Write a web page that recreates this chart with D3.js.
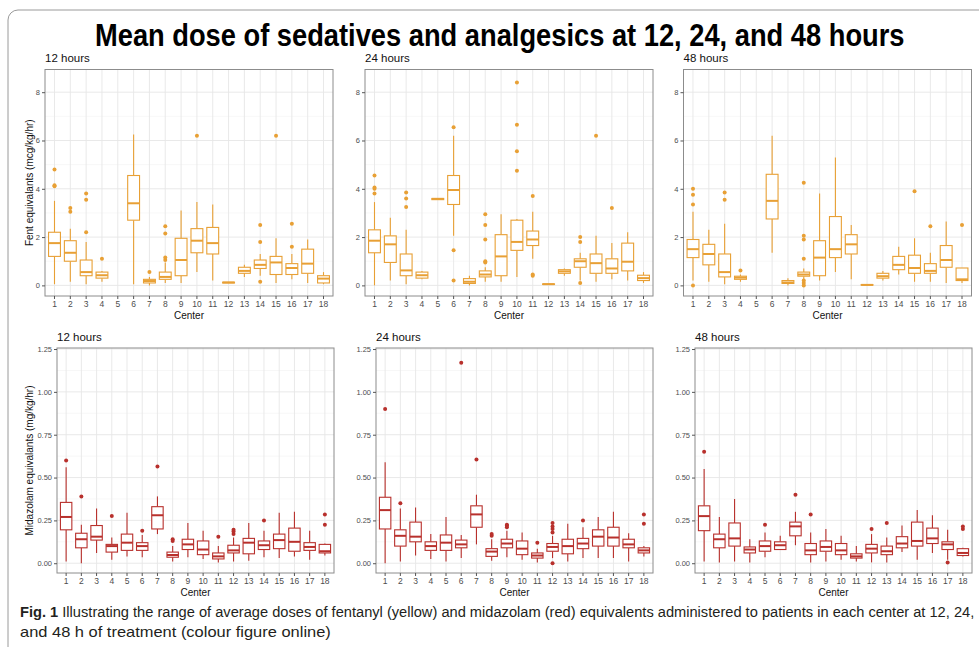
<!DOCTYPE html>
<html>
<head>
<meta charset="utf-8">
<script src="https://cdn.jsdelivr.net/npm/d3@7"></script>
<style>
  body { margin: 0; background: #fff; }
  svg { display: block; }
  .tick text { fill: #4d4d4d; font-family: "Liberation Sans", Arial, sans-serif; font-size: 7.5px; }
  .tick line { stroke: #555; }
  .domain { display: none; }
</style>
</head>
<body>
<svg id="chart" width="979" height="647"></svg>
<script>
// ---- data ----
var centers = [1,2,3,4,5,6,7,8,9,10,11,12,13,14,15,16,17,18];
var hourTitles = ["12 hours", "24 hours", "48 hours"];
var fentTicks = [0, 2, 4, 6, 8];
var fentMinor = [1, 3, 5, 7];
var midTicks = [0, 0.25, 0.5, 0.75, 1.0, 1.25];
var midMinor = [0.125, 0.375, 0.625, 0.875, 1.125];

// [lower whisker, q1, median, q3, upper whisker], null = no data
var fent12 = [[0.05,1.2,1.75,2.2,3.5],[0.15,1.0,1.35,1.85,2.35],[0.05,0.4,0.55,1.05,1.8],[0.15,0.3,0.42,0.55,0.6],null,
  [0.05,2.7,3.4,4.55,6.25],[0.0,0.1,0.18,0.25,0.35],[0.1,0.25,0.35,0.55,0.95],[0.1,0.4,1.05,1.95,3.1],[0.55,1.35,1.85,2.35,3.45],
  [0.2,1.3,1.75,2.4,3.35],[0.1,0.1,0.12,0.13,0.13],[0.35,0.5,0.6,0.75,0.85],[0.4,0.7,0.85,1.05,1.3],[0.1,0.45,0.95,1.2,1.95],
  [0.25,0.45,0.72,0.9,1.3],[0.1,0.5,0.9,1.5,1.9],[0.05,0.1,0.28,0.4,0.55]];
var fent12Out = [[4.1,4.15,4.8],[3.05,3.2],[2.2,3.55,3.8],[1.1],[],[],[0.55],[1.05,1.15,2.15,2.45],[],[6.2],
  [],[],[],[0.15,1.8,2.5],[6.2],[1.6,2.55],[],[]];

var fent24 = [[0.0,1.35,1.85,2.3,3.45],[0.2,0.95,1.7,2.05,2.8],[0.05,0.4,0.62,1.3,2.3],[0.25,0.3,0.42,0.55,0.6],[3.55,3.55,3.58,3.6,3.6],
  [2.05,3.35,3.95,4.55,6.2],[0.0,0.08,0.15,0.28,0.4],[0.15,0.35,0.45,0.6,0.75],[0.15,0.4,1.2,2.1,2.95],[0.35,1.45,1.8,2.7,2.75],
  [1.1,1.65,1.9,2.25,3.05],[0.04,0.04,0.05,0.06,0.06],[0.4,0.5,0.58,0.65,0.7],[0.2,0.75,1.0,1.1,1.35],[0.15,0.5,0.92,1.3,2.05],
  [0.25,0.5,0.7,1.1,1.75],[0.2,0.6,0.98,1.75,2.2],[0.1,0.2,0.3,0.42,0.55]];
var fent24Out = [[3.8,4.0,4.05,4.55],[],[3.25,3.6,3.85],[],[],[0.2,1.45,6.55],[],[0.95,1.0,1.9,2.5,2.95],[],[4.75,5.55,6.65,8.4],
  [0.4,0.45,3.7],[],[],[0.1,1.8,2.0],[6.2],[3.2],[],[]];

var fent48 = [[0.2,1.15,1.5,1.9,3.05],[0.15,0.85,1.3,1.7,2.3],[0.05,0.35,0.55,1.3,2.55],[0.15,0.25,0.32,0.38,0.45],null,
  [1.35,2.75,3.5,4.6,6.2],[0.0,0.08,0.12,0.2,0.3],[0.25,0.38,0.45,0.55,0.7],[0.2,0.4,1.15,1.85,3.8],[0.55,1.15,1.5,2.85,5.3],
  [0.25,1.3,1.7,2.1,2.5],[0.01,0.01,0.02,0.03,0.03],[0.2,0.3,0.38,0.5,0.6],[0.45,0.65,0.85,1.2,1.6],[0.15,0.5,0.72,1.25,1.95],
  [0.15,0.5,0.6,0.9,1.35],[0.1,0.75,1.05,1.65,2.65],[0.1,0.2,0.25,0.72,0.72]];
var fent48Out = [[0.0,3.35,3.75,4.0],[],[3.55,3.85],[0.62],[],[],[],[0.0,0.1,0.2,1.1,1.9,2.05,4.25],[],[],
  [],[],[],[],[3.9],[2.45],[],[2.5]];

var mid12 = [[0.01,0.195,0.27,0.355,0.56],[0.0,0.09,0.14,0.175,0.225],[0.06,0.135,0.155,0.22,0.32],[0.02,0.065,0.1,0.11,0.15],[0.04,0.075,0.12,0.17,0.295],
  [0.035,0.075,0.1,0.12,0.165],[0.17,0.2,0.28,0.33,0.39],[0.01,0.035,0.048,0.065,0.1],[0.035,0.08,0.11,0.14,0.235],[0.025,0.05,0.08,0.13,0.19],
  [0.005,0.025,0.04,0.06,0.1],[0.01,0.06,0.075,0.105,0.15],[0.015,0.055,0.12,0.145,0.235],[0.035,0.08,0.105,0.13,0.19],[0.03,0.085,0.135,0.17,0.295],
  [0.04,0.07,0.125,0.205,0.3],[0.02,0.075,0.095,0.12,0.19],[0.045,0.06,0.07,0.11,0.115]];
var mid12Out = [[0.6],[0.39],[],[0.275],[],[0.19],[0.565],[0.13,0.14],[],[],
  [0.155],[0.17,0.185,0.195],[],[0.25],[],[],[],[0.225,0.285]];

var mid24 = [[0.0,0.2,0.31,0.385,0.59],[0.01,0.1,0.16,0.195,0.32],[0.045,0.125,0.155,0.24,0.325],[0.025,0.075,0.1,0.125,0.17],[0.01,0.075,0.12,0.165,0.27],
  [0.03,0.09,0.11,0.135,0.165],[0.11,0.21,0.285,0.335,0.4],[0.015,0.04,0.068,0.085,0.14],[0.035,0.09,0.115,0.14,0.19],[0.02,0.05,0.085,0.13,0.18],
  [0.005,0.03,0.045,0.06,0.085],[0.03,0.07,0.095,0.115,0.16],[0.01,0.055,0.1,0.14,0.23],[0.03,0.085,0.115,0.145,0.21],[0.03,0.1,0.155,0.195,0.27],
  [0.03,0.1,0.15,0.21,0.3],[0.01,0.09,0.11,0.14,0.175],[0.04,0.06,0.075,0.09,0.1]];
var mid24Out = [[0.9],[0.35],[],[],[],[1.17],[0.605],[0.16,0.17],[0.21,0.22,0.225],[],
  [0.12],[0.0,0.18,0.2,0.215,0.235],[],[0.25],[],[],[],[0.23,0.285]];

var mid48 = [[0.01,0.19,0.275,0.335,0.55],[0.005,0.09,0.14,0.17,0.27],[0.01,0.1,0.145,0.235,0.375],[0.005,0.06,0.08,0.095,0.14],[0.035,0.07,0.1,0.13,0.18],
  [0.08,0.08,0.105,0.125,0.16],[0.105,0.16,0.215,0.24,0.3],[0.005,0.05,0.075,0.115,0.18],[0.01,0.07,0.095,0.13,0.2],[0.02,0.05,0.075,0.115,0.16],
  [0.01,0.03,0.04,0.055,0.1],[0.005,0.06,0.085,0.11,0.17],[0.005,0.05,0.07,0.1,0.15],[0.065,0.09,0.115,0.155,0.22],[0.02,0.1,0.13,0.24,0.31],
  [0.06,0.115,0.145,0.205,0.28],[0.02,0.08,0.11,0.125,0.195],[0.04,0.045,0.06,0.085,0.09]];
var mid48Out = [[0.65],[],[],[],[0.225],[],[0.4],[0.285],[],[],
  [],[0.2],[0.235],[],[],[],[0.005],[0.2,0.215]];

// ---- layout ----
var svg = d3.select("#chart");
var font = '"Liberation Sans", Arial, sans-serif';
var fentColor = "#E8A035", midColor = "#B8302C";

// squeeze a text horizontally so it spans the given width (condensed look)
function fitText(t, x, y, width) {
  var len = t.node().getComputedTextLength();
  t.attr("transform", "translate(" + x + "," + y + ") scale(" + (width / len) + ",1)");
}

// outer frame
svg.append("rect")
    .attr("x", 8).attr("y", 10).attr("width", 1000).attr("height", 700)
    .attr("rx", 10)
    .attr("fill", "none").attr("stroke", "#9a9a9a").attr("stroke-width", 1);

var title = svg.append("text")
    .attr("font-family", font).attr("font-weight", "bold").attr("font-size", 31)
    .attr("fill", "#000")
    .text("Mean dose of sedatives and analgesics at 12, 24, and 48 hours");
fitText(title, 95, 46, 810);

var topRow = {y0: 69.5, h: 226.5, xs: [45, 365, 683.5], w: 288, domain: [-0.44, 8.94],
  ticks: fentTicks, minor: fentMinor, fmt: d3.format("d"), color: fentColor,
  ylab: "Fent equivalants (mcg/kg/hr)", titleY: 62};
var botRow = {y0: 348, h: 225, xs: [57, 376, 695], w: 277, domain: [-0.057, 1.256],
  ticks: midTicks, minor: midMinor, fmt: d3.format(".2f"), color: midColor,
  ylab: "Midazolam equivalants (mg/kg/hr)", titleY: 341};

var topData = [[fent12, fent12Out], [fent24, fent24Out], [fent48, fent48Out]];
var botData = [[mid12, mid12Out], [mid24, mid24Out], [mid48, mid48Out]];

function drawPanel(row, k, stats, outs) {
  var x0 = row.xs[k], w = row.w, h = row.h;
  var g = svg.append("g").attr("transform", "translate(" + x0 + "," + row.y0 + ")");

  var x = d3.scaleBand().domain(centers).range([0, w]).paddingInner(0).paddingOuter(0.1);
  var y = d3.scaleLinear().domain(row.domain).range([h, 0]);
  var cx = function(c) { return x(c) + x.bandwidth() / 2; };
  var bw = x.bandwidth() * 0.75;

  // grid
  g.append("g").selectAll("line").data(row.minor).enter().append("line")
      .attr("x1", 0).attr("x2", w).attr("y1", y).attr("y2", y)
      .attr("stroke", "#f2f2f2").attr("stroke-width", 0.6);
  g.append("g").selectAll("line").data(row.ticks).enter().append("line")
      .attr("x1", 0).attr("x2", w).attr("y1", y).attr("y2", y)
      .attr("stroke", "#e6e6e6").attr("stroke-width", 0.9);
  g.append("g").selectAll("line").data(centers).enter().append("line")
      .attr("x1", cx).attr("x2", cx).attr("y1", 0).attr("y2", h)
      .attr("stroke", "#e6e6e6").attr("stroke-width", 0.9);

  // boxes
  var rows = centers.map(function(c, i) { return {c: c, s: stats[i], o: outs[i]}; });
  var box = g.append("g").selectAll("g").data(rows.filter(function(d) { return d.s; }))
    .enter().append("g");
  box.append("line")
      .attr("x1", function(d) { return cx(d.c); }).attr("x2", function(d) { return cx(d.c); })
      .attr("y1", function(d) { return y(d.s[0]); }).attr("y2", function(d) { return y(d.s[1]); })
      .attr("stroke", row.color).attr("stroke-width", 1.1);
  box.append("line")
      .attr("x1", function(d) { return cx(d.c); }).attr("x2", function(d) { return cx(d.c); })
      .attr("y1", function(d) { return y(d.s[3]); }).attr("y2", function(d) { return y(d.s[4]); })
      .attr("stroke", row.color).attr("stroke-width", 1.1);
  box.append("rect")
      .attr("x", function(d) { return cx(d.c) - bw / 2; }).attr("width", bw)
      .attr("y", function(d) { return y(d.s[3]); })
      .attr("height", function(d) { return y(d.s[1]) - y(d.s[3]); })
      .attr("fill", "#fff").attr("stroke", row.color).attr("stroke-width", 1.1);
  box.append("line")
      .attr("x1", function(d) { return cx(d.c) - bw / 2; }).attr("x2", function(d) { return cx(d.c) + bw / 2; })
      .attr("y1", function(d) { return y(d.s[2]); }).attr("y2", function(d) { return y(d.s[2]); })
      .attr("stroke", row.color).attr("stroke-width", 2);

  // outliers
  var pts = [];
  rows.forEach(function(d) { d.o.forEach(function(v) { pts.push({c: d.c, v: v}); }); });
  g.append("g").selectAll("circle").data(pts).enter().append("circle")
      .attr("cx", function(d) { return cx(d.c); }).attr("cy", function(d) { return y(d.v); })
      .attr("r", 2).attr("fill", row.color);

  // border
  g.append("rect").attr("width", w).attr("height", h)
      .attr("fill", "none").attr("stroke", "#8c8c8c").attr("stroke-width", 1);

  // axes
  g.append("g")
      .call(d3.axisLeft(y).tickValues(row.ticks).tickSize(3).tickPadding(2).tickFormat(row.fmt));
  g.append("g").attr("transform", "translate(0," + h + ")")
      .call(d3.axisBottom(x).tickSize(3).tickPadding(2))
      .selectAll("text").style("font-size", "8.5px");

  g.append("text")
      .attr("x", w / 2).attr("y", h + 23)
      .attr("text-anchor", "middle")
      .attr("font-family", font).attr("font-size", 10).attr("fill", "#111")
      .text("Center");

  svg.append("text")
      .attr("x", x0).attr("y", row.titleY)
      .attr("font-family", font).attr("font-size", 11.5).attr("fill", "#111")
      .text(hourTitles[k]);

  if (k == 0) {
    svg.append("text")
        .attr("transform", "translate(33," + (row.y0 + h / 2) + ") rotate(-90)")
        .attr("text-anchor", "middle")
        .attr("font-family", font).attr("font-size", 10).attr("fill", "#111")
        .text(row.ylab);
  }
}

topData.forEach(function(d, k) { drawPanel(topRow, k, d[0], d[1]); });
botData.forEach(function(d, k) { drawPanel(botRow, k, d[0], d[1]); });

// caption
var cap1 = svg.append("text")
    .attr("font-family", font).attr("font-size", 15).attr("fill", "#231f20");
cap1.append("tspan").attr("font-weight", "bold").text("Fig. 1");
cap1.append("tspan").text("  Illustrating the range of average doses of fentanyl (yellow) and midazolam (red) equivalents administered to patients in each center at 12, 24,");
fitText(cap1, 20, 617, 955);

var cap2 = svg.append("text")
    .attr("font-family", font).attr("font-size", 15).attr("fill", "#231f20")
    .text("and 48 h of treatment (colour figure online)");
fitText(cap2, 20, 637, 311);
</script>
</body>
</html>
